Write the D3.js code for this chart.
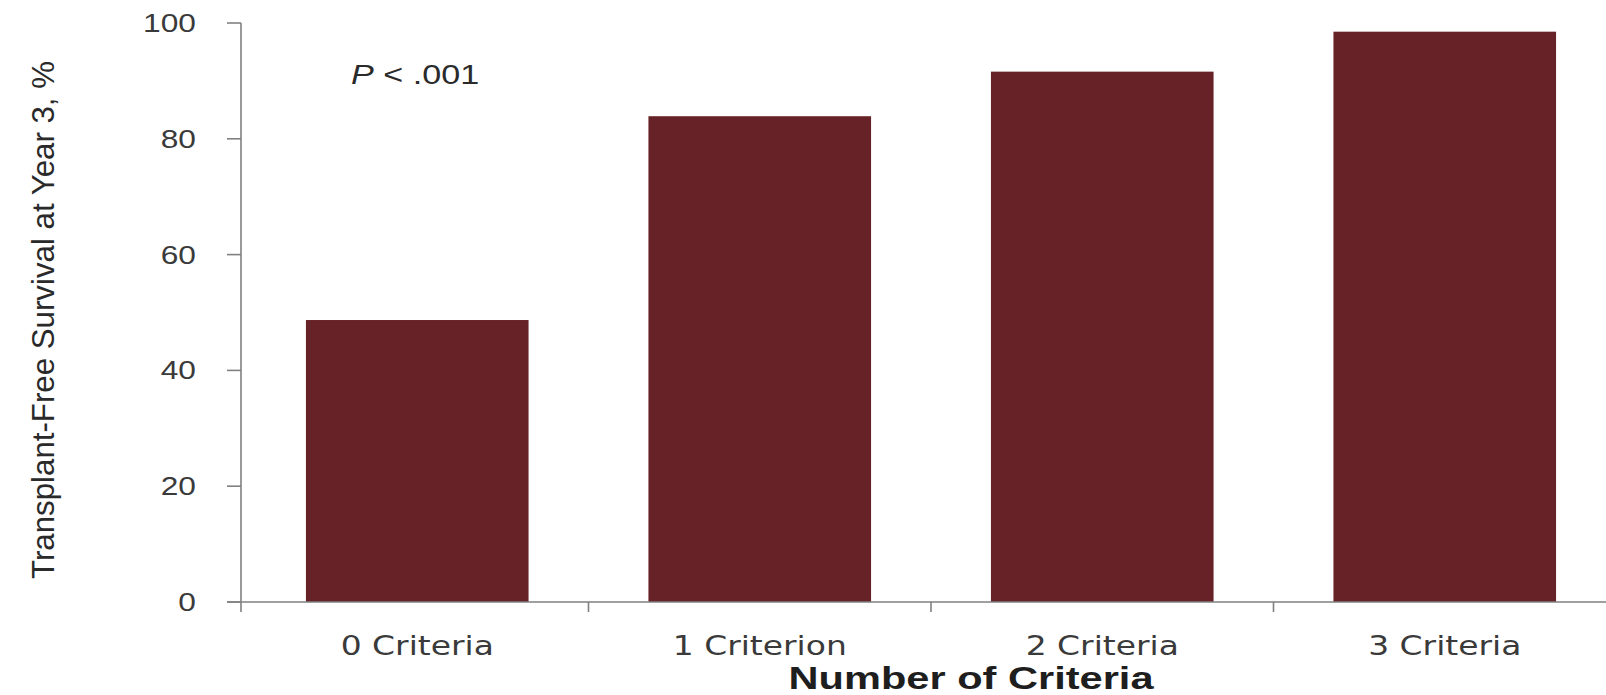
<!DOCTYPE html>
<html>
<head>
<meta charset="utf-8">
<script src="https://cdn.jsdelivr.net/npm/d3@7"></script>
<style>
  html, body { margin: 0; padding: 0; background: #fff; }
  svg { display: block; }
</style>
</head>
<body>
<svg id="chart" width="1606" height="695"></svg>
<script>
// Transplant-free survival at year 3 by number of criteria met
const categories = ["0 Criteria", "1 Criterion", "2 Criteria", "3 Criteria"];
const survival = [48.7, 83.9, 91.6, 98.5];
const yTicks = [0, 20, 40, 60, 80, 100];
const yTitle = "Transplant-Free Survival at Year 3, %";
const xTitle = "Number of Criteria";
const pLabel = ["P", " < .001"];

const svg = d3.select("#chart");
const W = 1606, H = 695;
const SX = 1.22;              // horizontal stretch of the label glyphs
const barColor = "#662226";
const axisColor = "#808080";

const axisX = 241, yTop = 23, yBase = 602;
const x0 = 246, step = 342.5;
const x = d3.scaleBand()
  .domain(categories)
  .range([x0, x0 + step * categories.length])
  .paddingInner(0.35)
  .paddingOuter(0.175);
const y = d3.scaleLinear().domain([0, 100]).range([yBase, yTop]);

// bars
svg.append("g").selectAll("rect")
  .data(categories)
  .join("rect")
  .attr("x", d => x(d))
  .attr("y", (d, i) => y(survival[i]))
  .attr("width", x.bandwidth())
  .attr("height", (d, i) => y(0) - y(survival[i]))
  .attr("fill", barColor);

// y axis line and ticks
const gy = svg.append("g");
gy.append("line")
  .attr("x1", axisX).attr("x2", axisX)
  .attr("y1", y(100)).attr("y2", y(0) + 10)
  .attr("stroke", axisColor).attr("stroke-width", 1.6);
gy.selectAll("line.tick")
  .data(yTicks)
  .join("line")
  .attr("class", "tick")
  .attr("x1", axisX - 14).attr("x2", axisX)
  .attr("y1", d => y(d)).attr("y2", d => y(d))
  .attr("stroke", axisColor).attr("stroke-width", 1.6);
gy.selectAll("g.lab")
  .data(yTicks)
  .join("g")
  .attr("class", "lab")
  .attr("transform", d => `translate(196,${y(d) + 9}) scale(${SX},1)`)
  .append("text")
  .attr("text-anchor", "end")
  .attr("font-family", "Liberation Sans, Arial, sans-serif")
  .attr("font-size", 26)
  .attr("fill", "#3a3a3a")
  .text(d => d);

// x axis line and category boundary ticks
const gx = svg.append("g");
gx.append("line")
  .attr("x1", axisX - 14).attr("x2", W)
  .attr("y1", y(0)).attr("y2", y(0))
  .attr("stroke", axisColor).attr("stroke-width", 1.6);
const bounds = categories.slice(1).map(c => x(c) - x.step() * x.paddingInner() / 2);
gx.selectAll("line.tick")
  .data(bounds)
  .join("line")
  .attr("class", "tick")
  .attr("x1", d => d).attr("x2", d => d)
  .attr("y1", y(0)).attr("y2", y(0) + 10)
  .attr("stroke", axisColor).attr("stroke-width", 1.6);
gx.selectAll("g.lab")
  .data(categories)
  .join("g")
  .attr("class", "lab")
  .attr("transform", d => `translate(${x(d) + x.bandwidth() / 2},655) scale(${SX},1)`)
  .append("text")
  .attr("text-anchor", "middle")
  .attr("font-family", "DejaVu Sans, Verdana, sans-serif")
  .attr("font-size", 27)
  .attr("fill", "#3a3a3a")
  .text(d => d);

// axis titles
svg.append("text")
  .attr("x", 971).attr("y", 689)
  .attr("text-anchor", "middle")
  .attr("font-family", "Liberation Sans Narrow, Liberation Sans, sans-serif")
  .attr("font-weight", "bold")
  .attr("font-size", 32)
  .attr("textLength", 365)
  .attr("lengthAdjust", "spacingAndGlyphs")
  .attr("fill", "#1e1e1e")
  .text(xTitle);

svg.append("text")
  .attr("transform", "translate(54,320) rotate(-90)")
  .attr("text-anchor", "middle")
  .attr("font-family", "Liberation Sans Narrow, Liberation Sans, sans-serif")
  .attr("font-size", 31)
  .attr("textLength", 518)
  .attr("lengthAdjust", "spacingAndGlyphs")
  .attr("fill", "#2a2a2a")
  .text(yTitle);

// significance annotation
const p = svg.append("g")
  .attr("transform", `translate(351,84) scale(${SX},1)`)
  .append("text")
  .attr("font-family", "Liberation Sans, Arial, sans-serif")
  .attr("font-size", 28)
  .attr("fill", "#2a2a2a");
p.append("tspan").attr("font-style", "italic").text(pLabel[0]);
p.append("tspan").text(pLabel[1]);
</script>
</body>
</html>
